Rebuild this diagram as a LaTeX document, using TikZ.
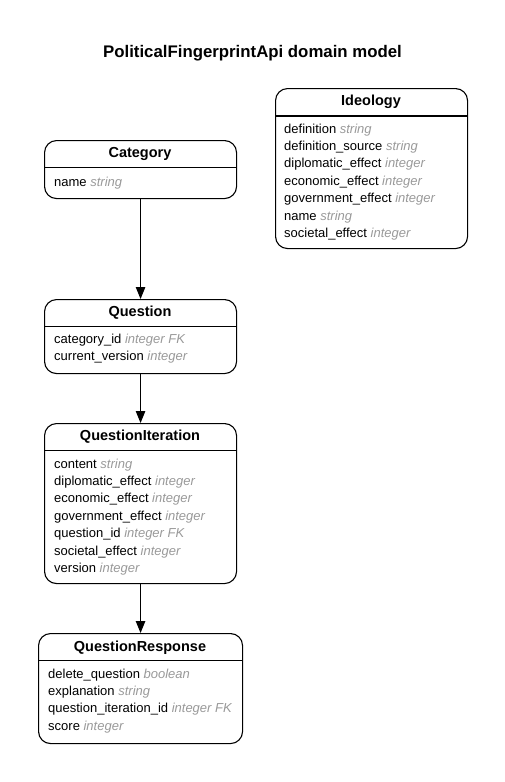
\documentclass[tikz,border=0pt]{standalone}
\usepackage{fontspec}
\setmainfont{Liberation Sans}
\usetikzlibrary{arrows.meta}
\definecolor{typegray}{HTML}{999999}
\newcommand{\ftype}[1]{{\itshape\color{typegray}#1}}
\begin{document}
\begin{tikzpicture}[x=1pt, y=-1pt, >={Triangle[length=12pt,width=9.5pt]},
    entity/.style={draw, line width=1.1pt, rounded corners=12pt, anchor=north west, inner sep=0pt, minimum width=192pt},
    sepline/.style={line width=1.1pt},
    head/.style={anchor=base, inner sep=0pt, font=\bfseries\fontsize{14.5}{17}\selectfont},
    attr/.style={anchor=base west, inner sep=0pt, font=\fontsize{13}{15}\selectfont},
    link/.style={->, line width=1.1pt}]
    \useasboundingbox (0,0) rectangle (505,782);

    \node[anchor=base, font=\bfseries\fontsize{16.8}{20}\selectfont] (title) at (252.5,57) {PoliticalFingerprintApi domain model};

    % Ideology
    \node[entity, minimum height=160pt] (ideology) at (275,88) {};
    \draw[sepline] (275,116) -- (467,116);
    \node[head] (ideologyH) at (371,105.5) {Ideology};
    \node[attr] at (284,133) {definition \ftype{string}};
    \node[attr] at (284,150.4) {definition\_source \ftype{string}};
    \node[attr] at (284,167.8) {diplomatic\_effect \ftype{integer}};
    \node[attr] at (284,185.2) {economic\_effect \ftype{integer}};
    \node[attr] at (284,202.6) {government\_effect \ftype{integer}};
    \node[attr] at (284,220) {name \ftype{string}};
    \node[attr] at (284,237.4) {societal\_effect \ftype{integer}};

    % Category
    \node[entity, minimum height=58pt] (category) at (44,140) {};
    \draw[sepline] (44,167.5) -- (236,167.5);
    \node[head] (categoryH) at (140,157.3) {Category};
    \node[attr] at (54,186) {name \ftype{string}};

    % Question
    \node[entity, minimum height=74pt] (question) at (44,299) {};
    \draw[sepline] (44,326.5) -- (236,326.5);
    \node[head] (questionH) at (140,316.3) {Question};
    \node[attr] at (54,343) {category\_id \ftype{integer FK}};
    \node[attr] at (54,360.4) {current\_version \ftype{integer}};

    % QuestionIteration
    \node[entity, minimum height=160pt] (iteration) at (44,423) {};
    \draw[sepline] (44,450.5) -- (236,450.5);
    \node[head] (iterationH) at (140,440.3) {QuestionIteration};
    \node[attr] at (54,468) {content \ftype{string}};
    \node[attr] at (54,485.4) {diplomatic\_effect \ftype{integer}};
    \node[attr] at (54,502.8) {economic\_effect \ftype{integer}};
    \node[attr] at (54,520.2) {government\_effect \ftype{integer}};
    \node[attr] at (54,537.6) {question\_id \ftype{integer FK}};
    \node[attr] at (54,555) {societal\_effect \ftype{integer}};
    \node[attr] at (54,572.4) {version \ftype{integer}};

    % QuestionResponse
    \node[entity, minimum width=204pt, minimum height=110pt] (response) at (38,633) {};
    \draw[sepline] (38,660.5) -- (242,660.5);
    \node[head] (responseH) at (140,651.3) {QuestionResponse};
    \node[attr] at (48,678) {delete\_question \ftype{boolean}};
    \node[attr] at (48,695.4) {explanation \ftype{string}};
    \node[attr] at (48,712.8) {question\_iteration\_id \ftype{integer FK}};
    \node[attr] at (48,730.2) {score \ftype{integer}};

    \draw[link] (category) -- (question);
    \draw[link] (question) -- (iteration);
    \draw[link] (iteration) -- (response);
\end{tikzpicture}
\end{document}
